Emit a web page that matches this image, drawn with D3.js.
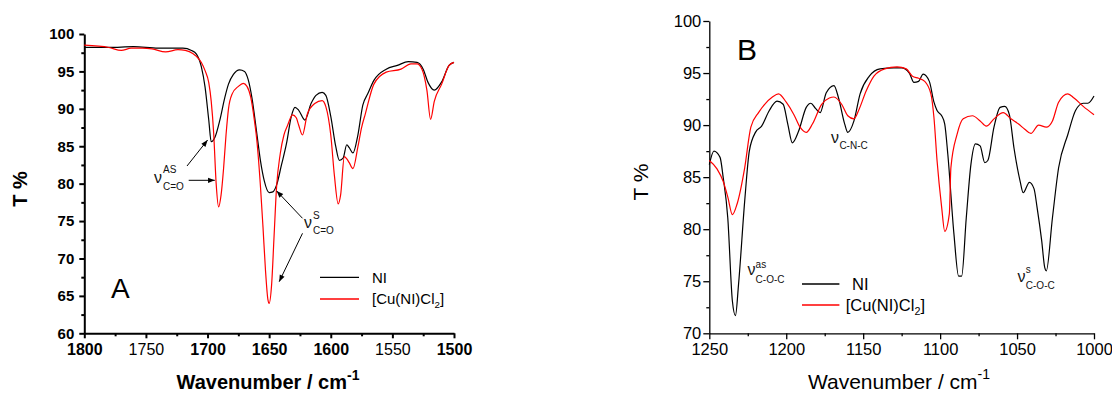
<!DOCTYPE html>
<html>
<head>
<meta charset="utf-8">
<script src="https://cdn.jsdelivr.net/npm/d3@7"></script>
<style>
  body { margin: 0; background: #fff; }
  svg { font-family: "Liberation Sans", Arial, sans-serif; }
  .curve { fill: none; stroke-width: 1.2; }
</style>
</head>
<body>
<div id="chart"></div>
<script>
/* ---- Panel A data (1800 - 1500 cm-1) ---- */
var niA_wn = [1800,1780,1760,1740,1720,1713,1709,1705,1702,1699,1697,1694,1690,1686,1683,1679,1674,1670,1667,1664,1660,1657,1654,1650,1647,1644,1640,1636,1632,1629,1626,1621,1616,1612,1607,1604,1600,1596,1593,1590,1587,1585,1582,1578,1574,1570,1565,1555,1546,1537,1530,1525,1521,1516,1510,1504,1500];
var niA_T  = [98.2,98.2,98.3,98.1,98.1,97.8,97.3,95.6,92.9,88.5,85.6,86.2,88.5,91.5,93.3,94.6,95.2,95.0,93.9,91.5,86.7,83.0,80.4,78.8,78.9,79.8,82.5,85.3,89.0,90.2,89.8,88.5,90.7,91.8,92.2,91.8,89.0,85.0,83.1,83.4,85.2,84.8,84.1,86.5,90.5,92.0,93.8,95.3,95.8,96.3,96.2,95.3,93.5,92.5,93.6,95.8,96.2];

var cuA_wn = [1800,1780,1770,1762,1753,1745,1734,1724,1718,1712,1709,1705,1702,1699,1697,1695,1693,1691,1689,1687,1685,1683,1680,1675,1671,1668,1665,1662,1660,1657,1655,1653,1651,1650,1648,1646,1644,1641,1638,1635,1631,1628,1626,1623,1619,1613,1607,1604,1600,1597,1594,1592,1589,1587,1585,1582,1578,1575,1572,1565,1555,1543,1535,1530,1526,1522,1519,1516,1510,1504,1500];
var cuA_T  = [98.5,98.2,97.8,98.1,98.1,98.0,97.6,97.9,97.8,97.4,97.0,96.2,95.1,93.5,91.0,86.7,80.0,76.9,78.5,82.0,86.5,90.0,92.0,93.0,93.4,93.0,91.6,88.5,85.8,79.5,74.2,68.5,64.5,64.0,66.5,73.0,79.5,84.0,86.5,87.8,89.2,88.8,87.8,86.5,89.3,90.7,91.1,90.3,86.5,81.0,77.3,78.5,83.6,83.3,82.8,82.0,84.9,87.5,89.3,93.3,94.9,95.3,96.0,96.0,95.3,92.5,88.6,91.0,93.3,95.8,96.2];

/* ---- Panel B data (1250 - 1000 cm-1) ---- */
var niB_wn = [1250,1247,1243,1241,1238,1235,1233,1231,1227,1224,1220,1216,1211,1206,1202,1199,1196,1192,1187,1184,1181,1178,1174,1169,1166,1162,1160,1156,1152,1146,1139,1130,1125,1120,1117,1114,1111,1107,1104,1102,1099,1097,1095,1091,1088,1086,1083,1080,1077,1074,1071,1069,1065,1061,1058,1055,1052,1048,1046,1042,1039,1037,1034,1032,1031,1027,1023,1017,1012,1007,1004,1000];
var niB_T  = [86.2,87.5,86.9,85.0,81.1,73.1,71.7,74.7,82.7,87.5,89.3,89.9,91.4,92.3,92.0,90.1,88.3,89.4,91.7,92.1,91.6,91.2,93.1,93.8,92.6,90.1,89.3,90.4,93.0,94.7,95.4,95.5,95.5,95.0,94.1,94.2,94.9,94.2,92.2,91.4,90.9,90.1,87.2,79.5,75.5,75.5,81.1,86.2,88.2,88.0,86.4,86.6,89.8,91.7,91.8,91.0,87.8,84.6,83.5,84.5,83.9,82.1,78.9,76.3,76.0,81.1,85.9,89.1,91.4,92.1,92.1,92.8];

var cuB_wn = [1250,1245,1241,1238,1235,1232,1227,1223,1218,1214,1209,1205,1200,1195,1191,1187,1183,1177,1172,1169,1164,1160,1156,1153,1148,1143,1136,1128,1122,1118,1114,1110,1106,1104,1102,1099,1097,1094,1093,1089,1085,1079,1074,1070,1065,1059,1054,1049,1045,1041,1036,1031,1027,1023,1017,1013,1007,1000];
var cuB_T  = [86.6,85.8,84.6,83.1,81.4,82.4,85.9,89.8,91.2,92.0,92.7,93.0,92.2,91.0,89.8,89.3,90.1,92.0,92.6,92.7,92.0,90.9,90.6,91.4,93.3,94.7,95.4,95.6,95.4,94.7,94.5,94.2,93.0,90.7,86.6,82.1,79.8,81.5,85.9,89.1,90.6,90.9,90.4,89.9,90.6,91.2,90.6,90.1,89.6,89.2,90.0,89.8,90.4,92.2,93.0,92.6,91.8,91.0];

/* ---- tick labels ---- */
var ticksA_x = [1800,1750,1700,1650,1600,1550,1500];
var ticksA_y = [60,65,70,75,80,85,90,95,100];
var ticksB_x = [1250,1200,1150,1100,1050,1000];
var ticksB_y = [70,75,80,85,90,95,100];

var seriesNames = ["NI", "[Cu(NI)Cl2]"];
var seriesColors = ["#000000", "#ff0000"];

var svg = d3.select("#chart").append("svg")
    .attr("width", 1112)
    .attr("height", 394);

/* arrow head for the annotations */
svg.append("defs").append("marker")
    .attr("id", "arrow")
    .attr("viewBox", "0 -4 9 8")
    .attr("refX", 9).attr("refY", 0)
    .attr("markerWidth", 8).attr("markerHeight", 6)
    .attr("markerUnits", "userSpaceOnUse")
    .attr("orient", "auto")
    .append("path")
    .attr("d", "M0,-3.5L9,0L0,3.5Z")
    .attr("fill", "#000");

function zip(wn, t) {
    return wn.map(function (w, i) { return { wn: w, t: t[i] }; });
}

/* draws axes + curves for one panel, returns the scales */
function drawPanel(p) {
    var x = d3.scaleLinear().domain(p.xDomain).range([p.left, p.right]);
    var y = d3.scaleLinear().domain(p.yDomain).range([p.bottom, p.top]);

    var line = d3.line()
        .x(function (d) { return x(d.wn); })
        .y(function (d) { return y(d.t); })
        .curve(d3.curveMonotoneX);

    /* minor ticks */
    svg.append("g")
        .attr("transform", "translate(0," + p.bottom + ")")
        .call(d3.axisBottom(x).tickValues(p.xMinor).tickSize(3).tickSizeOuter(0).tickFormat(""))
        .call(function (g) { g.select(".domain").remove(); })
        .selectAll("line").attr("stroke-width", p.axisWidth);
    svg.append("g")
        .attr("transform", "translate(" + p.left + ",0)")
        .call(d3.axisLeft(y).tickValues(p.yMinor).tickSize(3).tickSizeOuter(0).tickFormat(""))
        .call(function (g) { g.select(".domain").remove(); })
        .selectAll("line").attr("stroke-width", p.axisWidth);

    /* major ticks + labels */
    var gx = svg.append("g")
        .attr("transform", "translate(0," + p.bottom + ")")
        .call(d3.axisBottom(x).tickValues(p.xTicks).tickSize(p.tickLen).tickSizeOuter(0)
            .tickPadding(p.xPad).tickFormat(d3.format("d")));
    var gy = svg.append("g")
        .attr("transform", "translate(" + p.left + ",0)")
        .call(d3.axisLeft(y).tickValues(p.yTicks).tickSize(p.tickLen).tickSizeOuter(0)
            .tickPadding(p.yPad).tickFormat(d3.format("d")));

    [gx, gy].forEach(function (g) {
        g.select(".domain").attr("stroke-width", p.axisWidth);
        g.selectAll("line").attr("stroke-width", p.axisWidth);
        g.selectAll("text")
            .attr("fill", "#000")
            .style("font-family", "'Liberation Sans', Arial, sans-serif");
    });
    gx.selectAll("text")
        .style("font-size", p.xFont + "px")
        .style("font-weight", function (d) { return p.boldX(d) ? "bold" : "normal"; });
    gy.selectAll("text")
        .style("font-size", p.yFont + "px")
        .style("font-weight", p.boldY ? "bold" : "normal");

    /* curves: NI then complex */
    p.series.forEach(function (s, i) {
        svg.append("path")
            .datum(s)
            .attr("class", "curve")
            .attr("stroke", seriesColors[i])
            .attr("d", line);
    });

    return { x: x, y: y };
}

/* greek nu with optional super / subscript */
function nuLabel(x, y, sup, sub, o) {
    var g = svg.append("g").attr("fill", "#111");
    g.append("text").attr("x", x).attr("y", y)
        .style("font-size", "16px").text("\u03bd");
    if (sup) {
        g.append("text").attr("x", x + o.dx).attr("y", y + o.supY)
            .style("font-size", o.supSize + "px").text(sup);
    }
    if (sub) {
        g.append("text").attr("x", x + o.dx).attr("y", y + o.subY)
            .style("font-size", o.subSize + "px").text(sub);
    }
}

function arrow(x1, y1, x2, y2) {
    svg.append("line")
        .attr("x1", x1).attr("y1", y1)
        .attr("x2", x2).attr("y2", y2)
        .attr("stroke", "#000")
        .attr("stroke-width", 1)
        .attr("marker-end", "url(#arrow)");
}

function legend(x1, x2, y0, gap, tx1, tx2, size) {
    seriesNames.forEach(function (name, i) {
        var yy = y0 + i * gap;
        svg.append("line")
            .attr("x1", x1).attr("x2", x2)
            .attr("y1", yy).attr("y2", yy)
            .attr("stroke", seriesColors[i])
            .attr("stroke-width", 1.3);
        var t = svg.append("text")
            .attr("x", i === 0 ? tx1 : tx2)
            .attr("y", yy + size * 0.36)
            .style("font-size", size + "px");
        if (i === 0) {
            t.text(name);
        } else {
            t.append("tspan").text("[Cu(NI)Cl");
            t.append("tspan").attr("dy", 4).style("font-size", (size * 0.65) + "px").text("2");
            t.append("tspan").attr("dy", -4).text("]");
        }
    });
}

/* ================= Panel A ================= */
drawPanel({
    left: 84.3, right: 454, top: 34, bottom: 333.3,
    xDomain: [1800, 1500], yDomain: [60, 100],
    xTicks: ticksA_x, yTicks: ticksA_y,
    xMinor: d3.range(1525, 1800, 50), yMinor: d3.range(62.5, 100, 5),
    tickLen: 5, xPad: 5, yPad: 5, axisWidth: 2,
    xFont: 16, yFont: 15,
    boldX: function (d) { return d !== 1750 && d !== 1550; },
    boldY: true,
    series: [zip(niA_wn, niA_T), zip(cuA_wn, cuA_T)]
});

svg.append("text")
    .attr("transform", "translate(27,189) rotate(-90)")
    .attr("text-anchor", "middle")
    .style("font-size", "20px").style("font-weight", "bold")
    .text("T %");

var titleA = svg.append("text")
    .attr("x", 268).attr("y", 389)
    .attr("text-anchor", "middle")
    .style("font-size", "20px").style("font-weight", "bold");
titleA.append("tspan").text("Wavenumber / cm");
titleA.append("tspan").attr("dy", -9).style("font-size", "14px").text("-1");

svg.append("text").attr("x", 111).attr("y", 298)
    .style("font-size", "28px").text("A");

legend(320, 359, 277.3, 21.7, 372, 372, 15);

nuLabel(154, 183, "AS", "C=O", { dx: 9, supY: -10, subY: 7, supSize: 10, subSize: 10 });
arrow(187, 166, 207.6, 140);
arrow(188.7, 180.3, 214.8, 180.3);

nuLabel(304, 227.7, "S", "C=O", { dx: 9, supY: -9, subY: 6.5, supSize: 10, subSize: 10 });
arrow(302.5, 218.3, 276.7, 191);
arrow(302.5, 233.3, 279.2, 281.7);

/* ================= Panel B ================= */
drawPanel({
    left: 709.3, right: 1094, top: 21, bottom: 333.3,
    xDomain: [1250, 1000], yDomain: [70, 100],
    xTicks: ticksB_x, yTicks: ticksB_y,
    xMinor: d3.range(1025, 1250, 50), yMinor: d3.range(72.5, 100, 5),
    tickLen: 6, xPad: 4, yPad: 2, axisWidth: 1.3,
    xFont: 16.5, yFont: 16.5,
    boldX: function () { return false; },
    boldY: false,
    series: [zip(niB_wn, niB_T), zip(cuB_wn, cuB_T)]
});

svg.append("text")
    .attr("transform", "translate(648,182) rotate(-90)")
    .attr("text-anchor", "middle")
    .style("font-size", "21px")
    .text("T %");

var titleB = svg.append("text")
    .attr("x", 899).attr("y", 389)
    .attr("text-anchor", "middle")
    .style("font-size", "21px");
titleB.append("tspan").text("Wavenumber / cm");
titleB.append("tspan").attr("dy", -10).style("font-size", "14px").text("-1");

svg.append("text").attr("x", 737).attr("y", 60)
    .style("font-size", "30px").text("B");

legend(802, 839.4, 284, 21, 852, 845.7, 16.5);

nuLabel(747.6, 275, "as", "C-O-C", { dx: 8, supY: -7.3, subY: 8.3, supSize: 10, subSize: 10 });
nuLabel(831, 143.3, null, "C-N-C", { dx: 8.4, subY: 6, subSize: 10 });
nuLabel(1017.5, 281.7, "s", "C-O-C", { dx: 8.3, supY: -8.4, subY: 7.6, supSize: 10, subSize: 10 });
</script>
</body>
</html>
